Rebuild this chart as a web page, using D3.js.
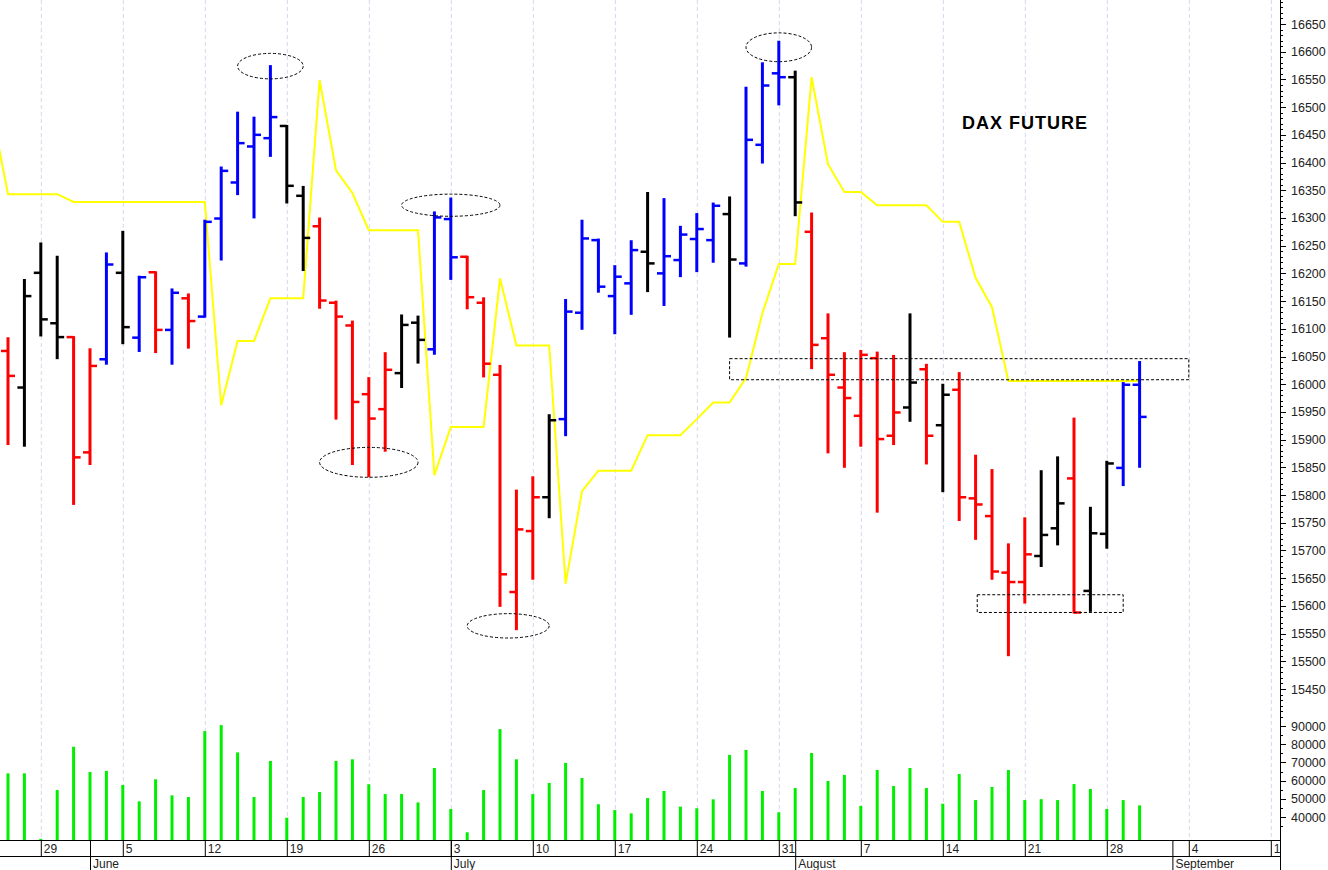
<!DOCTYPE html>
<html>
<head>
<meta charset="utf-8">
<script src="https://cdn.jsdelivr.net/npm/d3@7"></script>
<style>
  body { margin: 0; background: #fff; }
  svg { display: block; font-family: "Liberation Sans", Arial, sans-serif; }
</style>
</head>
<body>
<div id="chart"></div>
<script>
// daily DAX future bars, from Thu 25 May 2023 to Wed 30 Aug 2023
var opens  = [16060,15994,16201,16110,16085,15877,16045,16201,16084,16202,16098,16155,16122,16299,16364,16429,16444,16466,16340,16285,
              16147,16106,15982,15955,16020,16111,16063,16298,16230,16147,16017,15625,15735,15796,15937,16129,16260,16159,16182,16239,
              16200,16224,16262,16260,16307,16218,16432,16561,16554,16275,16083,15994,15943,16047,15907,15958,16027,15926,15990,15794,
              15762,15660,15643,15690,15740,15830,15627,15730,15849,15999];
var highs  = [16083,16188,16254,16230,16085,16063,16236,16275,16194,16202,16171,16162,16295,16391,16490,16481,16574,16466,16356,16299,
              16149,16113,16011,16056,16124,16122,16310,16335,16230,16155,16033,15808,15832,15944,16152,16295,16261,16213,16258,16345,
              16334,16284,16307,16326,16337,16535,16579,16618,16564,16308,16126,16056,16060,16057,16051,16126,16035,15999,16020,15871,
              15845,15711,15758,15843,15868,15938,15777,15860,16002,16040];
var lows   = [15892,15889,16088,16047,15784,15856,16037,16074,16060,16058,16037,16066,16122,16225,16343,16301,16412,16328,16206,16138,
              15938,15856,15834,15880,15995,16039,16055,16190,16137,16014,15600,15558,15649,15760,15908,16100,16167,16092,16127,16168,
              16143,16195,16204,16221,16086,16214,16400,16505,16305,16029,15877,15851,15889,15770,15892,15934,15857,15807,15755,15721,
              15649,15511,15606,15672,15711,15588,15591,15705,15818,15851];
var closes = [16015,16159,16117,16085,15868,16033,16216,16103,16193,16098,16165,16114,16293,16385,16435,16450,16482,16358,16264,16151,
              16122,15968,15938,16026,16107,16080,16301,16229,16157,16037,15657,15738,15796,15935,16131,16263,16176,16194,16242,16218,
              16231,16270,16280,16322,16225,16441,16539,16554,16328,16071,16017,15975,16053,15901,15949,16003,15907,15981,15796,15783,
              15662,15643,15693,15728,15785,15588,15731,15857,15999,15941];
// bar colouring: u = blue, d = red, n = black
var trend = "dnnnddunududu" + "uuuunnddddd" + "nnuuddddd" + "nuuuuu" + "nuuuun" + "uuun" + "dddddd" + "ndnddddd" + "nndnnuu";
var volumes = [64000,64000,28000,54800,78600,64700,65300,57600,48600,60700,51900,51000,87200,90500,75500,51000,70800,39600,51000,53700,
               70800,71700,58000,52600,52600,48000,66900,44400,31600,54800,88300,71700,52600,58700,69700,61400,47000,43800,42000,50400,
               54300,45700,44800,49700,74100,76800,54300,42600,55900,75200,59800,63100,46100,65800,57000,66900,55900,47300,63600,49300,
               56500,65800,49300,49800,49300,58100,55400,44400,49300,46400];
// yellow line, first value belongs to the day before the first bar
var lineValues = [16495,16343,16343,16343,16343,16329,16329,16329,16329,16329,16329,16329,16329,16329,15962,16078,16078,16155,16155,16155,
                  16549,16386,16345,16278,16278,16278,16278,15836,15923,15923,15923,16191,16070,16070,16070,15640,15807,15844,15844,15844,
                  15908,15908,15908,15937,15967,15967,16011,16128,16217,16217,16554,16397,16347,16347,16323,16323,16323,16323,16293,16293,
                  16192,16139,16006,16006,16006,16006,16006,16006,16006,16006,16006];
var priceTicks = d3.range(15450, 16651, 50);
var volumeTicks = [40000, 50000, 60000, 70000, 80000, 90000];
// annotations: [bar index, price, half width in bars, half height in points]
var ellipses = [[16, 16574, 2, 23], [27, 16323, 3, 20], [22, 15859, 3, 27], [30.5, 15564, 2.5, 22], [47, 16608, 2, 26]];
var boxes = [[44, 72, 16047, 16009], [59.1, 68, 15621, 15589]];

var W = 1328, H = 870, axisX = 1280, bottomY = 840;
var svg = d3.select('#chart').append('svg').attr('width', W).attr('height', H);

// trading calendar
var dates = [], d = new Date(2023, 4, 25);
while (dates.length < 80) {
    if (d.getDay() != 0 && d.getDay() != 6) dates.push(new Date(d));
    d = d3.timeDay.offset(d, 1);
}

var x = d3.scaleLinear().domain([0, 1]).range([8, 24.4]);
var y = d3.scaleLinear().domain([15450, 16650]).range([689, 24]);
var yv = d3.scaleLinear().domain([40000, 90000]).range([817, 726]);

var plot = svg.append('g');
svg.append('clipPath').attr('id', 'clip').append('rect').attr('width', axisX).attr('height', bottomY);
plot.attr('clip-path', 'url(#clip)');

// weekly grid
var mondays = d3.range(dates.length).filter(function(i){ return dates[i].getDay() == 1; });
plot.selectAll('.grid').data(mondays).enter().append('line')
    .attr('x1', function(i){ return x(i) + 0.5; }).attr('x2', function(i){ return x(i) + 0.5; })
    .attr('y1', 0).attr('y2', bottomY)
    .attr('stroke', '#d6d6ee').attr('stroke-dasharray', '4,3');

// volume
plot.selectAll('.vol').data(volumes).enter().append('line')
    .attr('x1', function(v, i){ return x(i); }).attr('x2', function(v, i){ return x(i); })
    .attr('y1', bottomY).attr('y2', function(v){ return yv(v); })
    .attr('stroke', '#00ee00').attr('stroke-width', 3);

// yellow line
plot.append('path')
    .datum(lineValues)
    .attr('d', d3.line().x(function(v, i){ return x(i - 1); }).y(function(v){ return y(v); }))
    .attr('fill', 'none').attr('stroke', '#ffff00').attr('stroke-width', 2);

// OHLC bars
var colorOf = { u: '#0000ff', d: '#ff0000', n: '#000000' };
var bars = plot.selectAll('.bar').data(opens).enter().append('g')
    .attr('stroke', function(o, i){ return colorOf[trend[i]]; });
bars.append('line')
    .attr('x1', function(o, i){ return x(i); }).attr('x2', function(o, i){ return x(i); })
    .attr('y1', function(o, i){ return y(highs[i]) - 1; }).attr('y2', function(o, i){ return y(lows[i]) + 1; })
    .attr('stroke-width', 3);
bars.append('line')
    .attr('x1', function(o, i){ return x(i) - 7; }).attr('x2', function(o, i){ return x(i); })
    .attr('y1', function(o){ return y(o); }).attr('y2', function(o){ return y(o); })
    .attr('stroke-width', 2.5);
bars.append('line')
    .attr('x1', function(o, i){ return x(i); }).attr('x2', function(o, i){ return x(i) + 7; })
    .attr('y1', function(o, i){ return y(closes[i]); }).attr('y2', function(o, i){ return y(closes[i]); })
    .attr('stroke-width', 2.5);

// annotations
plot.selectAll('.ell').data(ellipses).enter().append('ellipse')
    .attr('cx', function(e){ return x(e[0]); }).attr('cy', function(e){ return y(e[1]); })
    .attr('rx', function(e){ return x(e[2]) - x(0); }).attr('ry', function(e){ return y(16000 - e[3]) - y(16000); })
    .attr('fill', 'none').attr('stroke', '#000').attr('stroke-dasharray', '3,2');
plot.selectAll('.box').data(boxes).enter().append('rect')
    .attr('x', function(b){ return x(b[0]); }).attr('y', function(b){ return y(b[2]) + 0.5; })
    .attr('width', function(b){ return x(b[1]) - x(b[0]); }).attr('height', function(b){ return y(b[3]) - y(b[2]); })
    .attr('fill', 'none').attr('stroke', '#000').attr('stroke-dasharray', '3,2');

svg.append('text').attr('x', 962).attr('y', 129).attr('font-size', 18).attr('font-weight', 'bold')
    .attr('letter-spacing', 1).text('DAX FUTURE');

// right axis
svg.append('line').attr('x1', axisX + 0.5).attr('x2', axisX + 0.5).attr('y1', 0).attr('y2', H).attr('stroke', '#000');
var minor = d3.range(15400, 16701, 10).filter(function(v){ return v % 50 != 0; });
svg.selectAll('.pminor').data(minor).enter().append('line')
    .attr('x1', axisX).attr('x2', axisX + 3).attr('y1', function(v){ return Math.round(y(v)) + 0.5; })
    .attr('y2', function(v){ return Math.round(y(v)) + 0.5; }).attr('stroke', '#000');
svg.selectAll('.pmajor').data(priceTicks).enter().append('line')
    .attr('x1', axisX).attr('x2', axisX + 6).attr('y1', function(v){ return Math.round(y(v)) + 0.5; })
    .attr('y2', function(v){ return Math.round(y(v)) + 0.5; }).attr('stroke', '#000');
svg.selectAll('.plab').data(priceTicks).enter().append('text')
    .attr('x', axisX + 11).attr('y', function(v){ return y(v) + 4.5; })
    .attr('font-size', 12.5).attr('fill', '#222').text(function(v){ return v; });
var vminor = d3.range(30000, 96000, 5000).filter(function(v){ return v % 10000 != 0; });
svg.selectAll('.vminor').data(vminor).enter().append('line')
    .attr('x1', axisX).attr('x2', axisX + 3).attr('y1', function(v){ return Math.round(yv(v)) + 0.5; })
    .attr('y2', function(v){ return Math.round(yv(v)) + 0.5; }).attr('stroke', '#000');
svg.selectAll('.vmajor').data(volumeTicks).enter().append('line')
    .attr('x1', axisX).attr('x2', axisX + 6).attr('y1', function(v){ return Math.round(yv(v)) + 0.5; })
    .attr('y2', function(v){ return Math.round(yv(v)) + 0.5; }).attr('stroke', '#000');
svg.selectAll('.vlab').data(volumeTicks).enter().append('text')
    .attr('x', axisX + 11).attr('y', function(v){ return yv(v) + 4.5; })
    .attr('font-size', 12.5).attr('fill', '#222').text(function(v){ return v; });

// bottom date axis
var dax = svg.append('g').attr('clip-path', 'url(#clipAxis)');
svg.append('clipPath').attr('id', 'clipAxis').append('rect').attr('width', axisX).attr('height', H);
dax.append('line').attr('x1', 0).attr('x2', axisX).attr('y1', bottomY + 0.5).attr('y2', bottomY + 0.5).attr('stroke', '#000');
dax.append('line').attr('x1', 0).attr('x2', axisX).attr('y1', bottomY + 16.5).attr('y2', bottomY + 16.5).attr('stroke', '#000');
dax.selectAll('.wk').data(mondays).enter().append('line')
    .attr('x1', function(i){ return x(i) + 0.5; }).attr('x2', function(i){ return x(i) + 0.5; })
    .attr('y1', bottomY).attr('y2', bottomY + 16).attr('stroke', '#000');
dax.selectAll('.wkl').data(mondays).enter().append('text')
    .attr('x', function(i){ return x(i) + 3; }).attr('y', bottomY + 13)
    .attr('font-size', 12).attr('fill', '#222').text(function(i){ return dates[i].getDate(); });
var monthStarts = d3.range(1, dates.length).filter(function(i){ return dates[i].getMonth() != dates[i - 1].getMonth(); });
dax.selectAll('.mo').data(monthStarts).enter().append('line')
    .attr('x1', function(i){ return x(i) + 0.5; }).attr('x2', function(i){ return x(i) + 0.5; })
    .attr('y1', bottomY).attr('y2', H).attr('stroke', '#000');
dax.selectAll('.mol').data(monthStarts).enter().append('text')
    .attr('x', function(i){ return x(i) + 3; }).attr('y', bottomY + 28)
    .attr('font-size', 12).attr('fill', '#222').text(function(i){ return d3.timeFormat('%B')(dates[i]); });
</script>
</body>
</html>
